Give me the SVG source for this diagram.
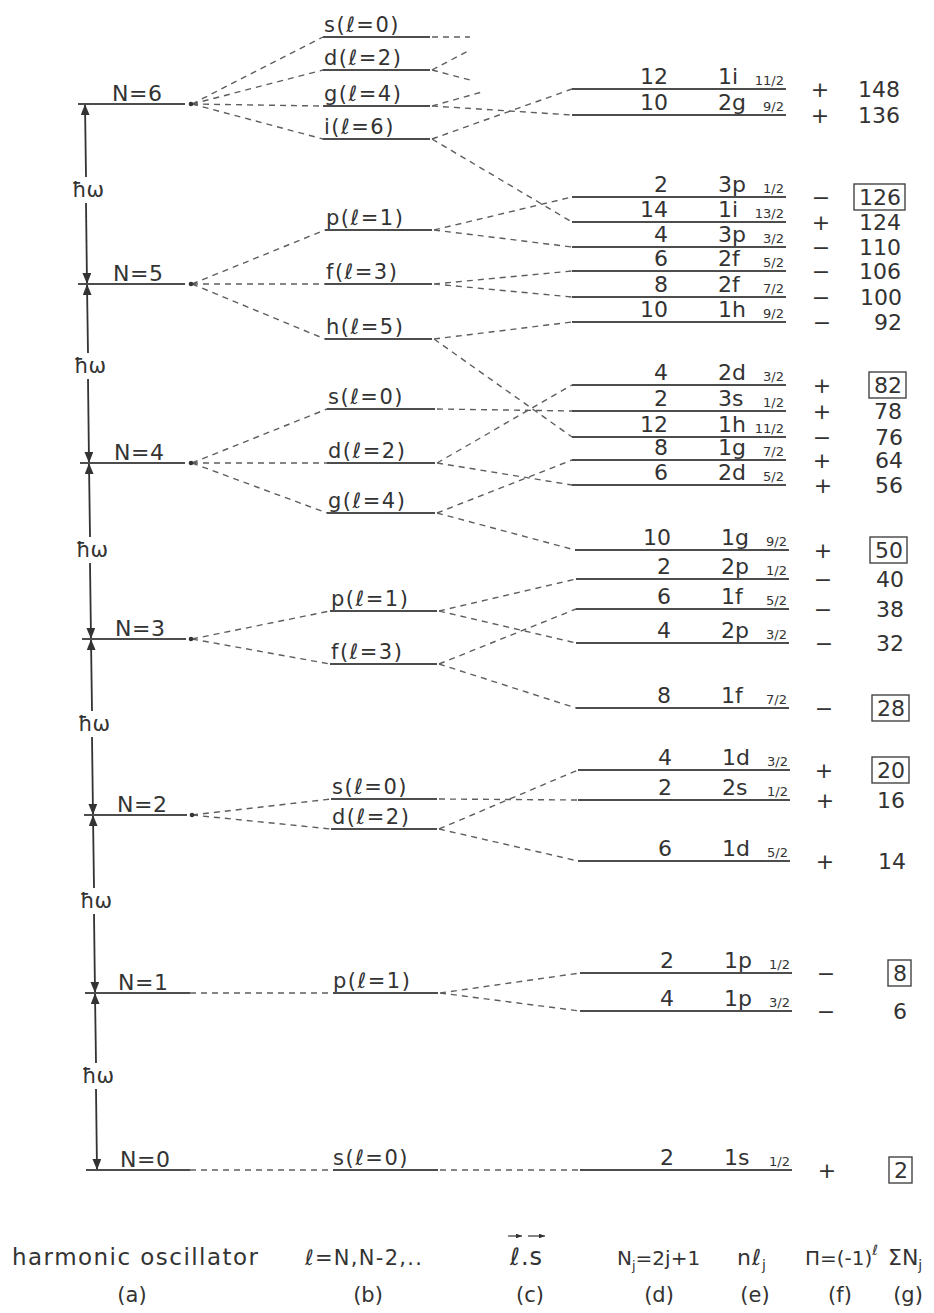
<svg xmlns="http://www.w3.org/2000/svg" width="934" height="1313" viewBox="0 0 934 1313">
<defs>
<style>
text{font-family:"DejaVu Sans","Liberation Sans",sans-serif;fill:#333}
.lv{stroke:#4d4d4d;stroke-width:1.8;fill:none}
.jv{stroke:#4d4d4d;stroke-width:2;fill:none}
.dl{stroke:#5e5e5e;stroke-width:1.4;stroke-dasharray:6 5;fill:none}
.ax{stroke:#333;stroke-width:1.8;fill:none}
.nl{font-size:22px;letter-spacing:0.5px}
.ll{font-size:21px;letter-spacing:1.5px}
.jn{font-size:22px;text-anchor:end}
.jl{font-size:22px}
.js{font-size:13px;text-anchor:end}
.sg{font-size:22px;text-anchor:middle}
.sm{font-size:22px;text-anchor:end}
.bx{fill:none;stroke:#444;stroke-width:1.4}
.hw{font-size:21px;text-anchor:middle}
.cp{font-size:21px}
.cl{font-size:21px;text-anchor:middle}
.dot{fill:#333}
.va{stroke:#333;stroke-width:1.2;fill:none}
</style>
<marker id="ah" viewBox="0 0 10 8" refX="10" refY="4" markerWidth="11" markerHeight="8.8" markerUnits="userSpaceOnUse" orient="auto-start-reverse"><path d="M0,0 L10,4 L0,8 z" fill="#333"/></marker>
<marker id="sa" viewBox="0 0 10 8" refX="10" refY="4" markerWidth="6" markerHeight="4.8" markerUnits="userSpaceOnUse" orient="auto"><path d="M0,0 L10,4 L0,8 z" fill="#333"/></marker>
</defs>
<rect width="934" height="1313" fill="#fff"/>

<g id="connectors">
<g id="axis">
<line class="ax" x1="85" y1="104" x2="86" y2="177" marker-start="url(#ah)"/>
<line class="ax" x1="86" y1="203" x2="87" y2="284" marker-end="url(#ah)"/>
<line class="ax" x1="87" y1="284" x2="88" y2="353" marker-start="url(#ah)"/>
<line class="ax" x1="88" y1="379" x2="89" y2="463" marker-end="url(#ah)"/>
<line class="ax" x1="89" y1="463" x2="90" y2="537" marker-start="url(#ah)"/>
<line class="ax" x1="90" y1="563" x2="91" y2="639" marker-end="url(#ah)"/>
<line class="ax" x1="91" y1="639" x2="92" y2="711" marker-start="url(#ah)"/>
<line class="ax" x1="92" y1="737" x2="93" y2="815" marker-end="url(#ah)"/>
<line class="ax" x1="93" y1="815" x2="94" y2="888" marker-start="url(#ah)"/>
<line class="ax" x1="94" y1="914" x2="95" y2="993" marker-end="url(#ah)"/>
<line class="ax" x1="95" y1="993" x2="96" y2="1063" marker-start="url(#ah)"/>
<line class="ax" x1="96" y1="1089" x2="97" y2="1170" marker-end="url(#ah)"/>
<text class="hw" x="88" y="197">ħω</text>
<text class="hw" x="90" y="373">ħω</text>
<text class="hw" x="92" y="557">ħω</text>
<text class="hw" x="94" y="731">ħω</text>
<text class="hw" x="96" y="908">ħω</text>
<text class="hw" x="98" y="1083">ħω</text>
</g>
<g id="n-to-l">
<path class="dl" d="M192,104 L323,37 M192,104 L323,70 M192,104 L323,106 M192,104 L323,139"/>
<path class="dl" d="M192,284 L325,230 M192,284 L325,284 M192,284 L325,339"/>
<path class="dl" d="M192,463 L327,409 M192,463 L327,463 M192,463 L327,513"/>
<path class="dl" d="M192,639 L330,611 M192,639 L330,664"/>
<path class="dl" d="M192,815 L331,799 M192,815 L331,829"/>
<path class="dl" d="M190,993 L333,993"/>
<path class="dl" d="M190,1170 L333,1170"/>
</g>
<g id="l-to-j">
<path class="dl" d="M432,37 L470,37"/>
<path class="dl" d="M432,70 L470,50 M432,70 L470,80"/>
<path class="dl" d="M432,106 L482,92 M432,106 L572,115"/>
<path class="dl" d="M432,139 L572,89 M432,139 L572,222"/>
<path class="dl" d="M434,230 L572,197 M434,230 L572,247"/>
<path class="dl" d="M434,284 L572,271 M434,284 L572,297"/>
<path class="dl" d="M434,339 L572,322 M434,339 L572,437"/>
<path class="dl" d="M437,409 L572,411"/>
<path class="dl" d="M437,463 L572,385 M437,463 L572,485"/>
<path class="dl" d="M437,513 L572,460 M437,513 L575,550"/>
<path class="dl" d="M439,611 L576,579 M439,611 L576,643"/>
<path class="dl" d="M439,664 L576,609 M439,664 L576,708"/>
<path class="dl" d="M439,799 L578,800"/>
<path class="dl" d="M439,829 L578,770 M439,829 L578,861"/>
<path class="dl" d="M440,993 L580,973 M440,993 L580,1011"/>
<path class="dl" d="M440,1170 L580,1170"/>
</g>
</g>

<g id="oscillator">
<g id="N6"><line class="lv" x1="78" y1="104" x2="185" y2="104"/><circle class="dot" cx="191" cy="104" r="2.3"/><text class="nl" x="112" y="101">N=6</text></g>
<g id="N5"><line class="lv" x1="78" y1="284" x2="185" y2="284"/><circle class="dot" cx="191" cy="284" r="2.3"/><text class="nl" x="113" y="281">N=5</text></g>
<g id="N4"><line class="lv" x1="80" y1="463" x2="185" y2="463"/><circle class="dot" cx="191" cy="463" r="2.3"/><text class="nl" x="114" y="460">N=4</text></g>
<g id="N3"><line class="lv" x1="82" y1="639" x2="186" y2="639"/><circle class="dot" cx="191" cy="639" r="2.3"/><text class="nl" x="115" y="636">N=3</text></g>
<g id="N2"><line class="lv" x1="84" y1="815" x2="187" y2="815"/><circle class="dot" cx="192" cy="815" r="2.3"/><text class="nl" x="117" y="812">N=2</text></g>
<g id="N1"><line class="lv" x1="85" y1="993" x2="190" y2="993"/><text class="nl" x="118" y="990">N=1</text></g>
<g id="N0"><line class="lv" x1="86" y1="1170" x2="190" y2="1170"/><text class="nl" x="120" y="1167">N=0</text></g>
</g>

<g id="orbital">
<g id="l-N6-s"><line class="lv" x1="323" y1="37" x2="430" y2="37"/><text class="ll" x="324" y="32">s(ℓ=0)</text></g>
<g id="l-N6-d"><line class="lv" x1="323" y1="70" x2="430" y2="70"/><text class="ll" x="324" y="65">d(ℓ=2)</text></g>
<g id="l-N6-g"><line class="lv" x1="323" y1="106" x2="430" y2="106"/><text class="ll" x="324" y="101">g(ℓ=4)</text></g>
<g id="l-N6-i"><line class="lv" x1="323" y1="139" x2="430" y2="139"/><text class="ll" x="324" y="134">i(ℓ=6)</text></g>
<g id="l-N5-p"><line class="lv" x1="325" y1="230" x2="432" y2="230"/><text class="ll" x="326" y="225">p(ℓ=1)</text></g>
<g id="l-N5-f"><line class="lv" x1="325" y1="284" x2="432" y2="284"/><text class="ll" x="326" y="279">f(ℓ=3)</text></g>
<g id="l-N5-h"><line class="lv" x1="325" y1="339" x2="432" y2="339"/><text class="ll" x="326" y="334">h(ℓ=5)</text></g>
<g id="l-N4-s"><line class="lv" x1="327" y1="409" x2="435" y2="409"/><text class="ll" x="328" y="404">s(ℓ=0)</text></g>
<g id="l-N4-d"><line class="lv" x1="327" y1="463" x2="435" y2="463"/><text class="ll" x="328" y="458">d(ℓ=2)</text></g>
<g id="l-N4-g"><line class="lv" x1="327" y1="513" x2="435" y2="513"/><text class="ll" x="328" y="508">g(ℓ=4)</text></g>
<g id="l-N3-p"><line class="lv" x1="330" y1="611" x2="437" y2="611"/><text class="ll" x="331" y="606">p(ℓ=1)</text></g>
<g id="l-N3-f"><line class="lv" x1="330" y1="664" x2="437" y2="664"/><text class="ll" x="331" y="659">f(ℓ=3)</text></g>
<g id="l-N2-s"><line class="lv" x1="331" y1="799" x2="437" y2="799"/><text class="ll" x="332" y="794">s(ℓ=0)</text></g>
<g id="l-N2-d"><line class="lv" x1="331" y1="829" x2="437" y2="829"/><text class="ll" x="332" y="824">d(ℓ=2)</text></g>
<g id="l-N1-p"><line class="lv" x1="333" y1="993" x2="438" y2="993"/><text class="ll" x="333" y="988">p(ℓ=1)</text></g>
<g id="l-N0-s"><line class="lv" x1="333" y1="1170" x2="438" y2="1170"/><text class="ll" x="333" y="1165">s(ℓ=0)</text></g>
</g>

<g id="spin-orbit">
<g id="j-1i11"><line class="jv" x1="572" y1="89" x2="786" y2="89"/><text class="jn" x="668" y="84">12</text><text class="jl" x="718" y="84">1i</text><text class="js" x="784" y="85">11/2</text><text class="sg" x="820" y="97">+</text><text class="sm" x="900" y="97">148</text></g>
<g id="j-2g9"><line class="jv" x1="572" y1="115" x2="786" y2="115"/><text class="jn" x="668" y="110">10</text><text class="jl" x="718" y="110">2g</text><text class="js" x="784" y="111">9/2</text><text class="sg" x="820" y="123">+</text><text class="sm" x="900" y="123">136</text></g>
<g id="j-3p1"><line class="jv" x1="572" y1="197" x2="786" y2="197"/><text class="jn" x="668" y="192">2</text><text class="jl" x="718" y="192">3p</text><text class="js" x="784" y="193">1/2</text><text class="sg" x="821" y="205">−</text><rect class="bx" x="854" y="184" width="51" height="26"/><text class="sm" x="901" y="205">126</text></g>
<g id="j-1i13"><line class="jv" x1="572" y1="222" x2="786" y2="222"/><text class="jn" x="668" y="217">14</text><text class="jl" x="718" y="217">1i</text><text class="js" x="784" y="218">13/2</text><text class="sg" x="821" y="230">+</text><text class="sm" x="901" y="230">124</text></g>
<g id="j-3p3"><line class="jv" x1="572" y1="247" x2="786" y2="247"/><text class="jn" x="668" y="242">4</text><text class="jl" x="718" y="242">3p</text><text class="js" x="784" y="243">3/2</text><text class="sg" x="821" y="255">−</text><text class="sm" x="901" y="255">110</text></g>
<g id="j-2f5"><line class="jv" x1="572" y1="271" x2="786" y2="271"/><text class="jn" x="668" y="266">6</text><text class="jl" x="718" y="266">2f</text><text class="js" x="784" y="267">5/2</text><text class="sg" x="821" y="279">−</text><text class="sm" x="901" y="279">106</text></g>
<g id="j-2f7"><line class="jv" x1="572" y1="297" x2="786" y2="297"/><text class="jn" x="668" y="292">8</text><text class="jl" x="718" y="292">2f</text><text class="js" x="784" y="293">7/2</text><text class="sg" x="821" y="305">−</text><text class="sm" x="902" y="305">100</text></g>
<g id="j-1h9"><line class="jv" x1="572" y1="322" x2="786" y2="322"/><text class="jn" x="668" y="317">10</text><text class="jl" x="718" y="317">1h</text><text class="js" x="784" y="318">9/2</text><text class="sg" x="822" y="330">−</text><text class="sm" x="902" y="330">92</text></g>
<g id="j-2d3"><line class="jv" x1="572" y1="385" x2="786" y2="385"/><text class="jn" x="668" y="380">4</text><text class="jl" x="718" y="380">2d</text><text class="js" x="784" y="381">3/2</text><text class="sg" x="822" y="393">+</text><rect class="bx" x="869" y="372" width="37" height="26"/><text class="sm" x="902" y="393">82</text></g>
<g id="j-3s1"><line class="jv" x1="572" y1="411" x2="786" y2="411"/><text class="jn" x="668" y="406">2</text><text class="jl" x="718" y="406">3s</text><text class="js" x="784" y="407">1/2</text><text class="sg" x="822" y="419">+</text><text class="sm" x="902" y="419">78</text></g>
<g id="j-1h11"><line class="jv" x1="572" y1="437" x2="786" y2="437"/><text class="jn" x="668" y="432">12</text><text class="jl" x="718" y="432">1h</text><text class="js" x="784" y="433">11/2</text><text class="sg" x="822" y="445">−</text><text class="sm" x="903" y="445">76</text></g>
<g id="j-1g7"><line class="jv" x1="572" y1="460" x2="786" y2="460"/><text class="jn" x="668" y="455">8</text><text class="jl" x="718" y="455">1g</text><text class="js" x="784" y="456">7/2</text><text class="sg" x="822" y="468">+</text><text class="sm" x="903" y="468">64</text></g>
<g id="j-2d5"><line class="jv" x1="572" y1="485" x2="786" y2="485"/><text class="jn" x="668" y="480">6</text><text class="jl" x="718" y="480">2d</text><text class="js" x="784" y="481">5/2</text><text class="sg" x="823" y="493">+</text><text class="sm" x="903" y="493">56</text></g>
<g id="j-1g9"><line class="jv" x1="575" y1="550" x2="789" y2="550"/><text class="jn" x="671" y="545">10</text><text class="jl" x="721" y="545">1g</text><text class="js" x="787" y="546">9/2</text><text class="sg" x="823" y="558">+</text><rect class="bx" x="870" y="537" width="37" height="26"/><text class="sm" x="903" y="558">50</text></g>
<g id="j-2p1"><line class="jv" x1="576" y1="579" x2="789" y2="579"/><text class="jn" x="671" y="574">2</text><text class="jl" x="721" y="574">2p</text><text class="js" x="787" y="575">1/2</text><text class="sg" x="823" y="587">−</text><text class="sm" x="904" y="587">40</text></g>
<g id="j-1f5"><line class="jv" x1="576" y1="609" x2="789" y2="609"/><text class="jn" x="671" y="604">6</text><text class="jl" x="721" y="604">1f</text><text class="js" x="787" y="605">5/2</text><text class="sg" x="823" y="617">−</text><text class="sm" x="904" y="617">38</text></g>
<g id="j-2p3"><line class="jv" x1="576" y1="643" x2="789" y2="643"/><text class="jn" x="671" y="638">4</text><text class="jl" x="721" y="638">2p</text><text class="js" x="787" y="639">3/2</text><text class="sg" x="824" y="651">−</text><text class="sm" x="904" y="651">32</text></g>
<g id="j-1f7"><line class="jv" x1="576" y1="708" x2="789" y2="708"/><text class="jn" x="671" y="703">8</text><text class="jl" x="721" y="703">1f</text><text class="js" x="787" y="704">7/2</text><text class="sg" x="824" y="716">−</text><rect class="bx" x="872" y="695" width="37" height="26"/><text class="sm" x="905" y="716">28</text></g>
<g id="j-1d3"><line class="jv" x1="578" y1="770" x2="790" y2="770"/><text class="jn" x="672" y="765">4</text><text class="jl" x="722" y="765">1d</text><text class="js" x="788" y="766">3/2</text><text class="sg" x="824" y="778">+</text><rect class="bx" x="872" y="757" width="37" height="26"/><text class="sm" x="905" y="778">20</text></g>
<g id="j-2s1"><line class="jv" x1="578" y1="800" x2="790" y2="800"/><text class="jn" x="672" y="795">2</text><text class="jl" x="722" y="795">2s</text><text class="js" x="788" y="796">1/2</text><text class="sg" x="825" y="808">+</text><text class="sm" x="905" y="808">16</text></g>
<g id="j-1d5"><line class="jv" x1="578" y1="861" x2="790" y2="861"/><text class="jn" x="672" y="856">6</text><text class="jl" x="722" y="856">1d</text><text class="js" x="788" y="857">5/2</text><text class="sg" x="825" y="869">+</text><text class="sm" x="906" y="869">14</text></g>
<g id="j-1p1"><line class="jv" x1="580" y1="973" x2="792" y2="973"/><text class="jn" x="674" y="968">2</text><text class="jl" x="724" y="968">1p</text><text class="js" x="790" y="969">1/2</text><text class="sg" x="826" y="981">−</text><rect class="bx" x="888" y="960" width="23" height="26"/><text class="sm" x="907" y="981">8</text></g>
<g id="j-1p3"><line class="jv" x1="580" y1="1011" x2="792" y2="1011"/><text class="jn" x="674" y="1006">4</text><text class="jl" x="724" y="1006">1p</text><text class="js" x="790" y="1007">3/2</text><text class="sg" x="826" y="1019">−</text><text class="sm" x="907" y="1019">6</text></g>
<g id="j-1s1"><line class="jv" x1="580" y1="1170" x2="792" y2="1170"/><text class="jn" x="674" y="1165">2</text><text class="jl" x="724" y="1165">1s</text><text class="js" x="790" y="1166">1/2</text><text class="sg" x="827" y="1178">+</text><rect class="bx" x="889" y="1157" width="23" height="26"/><text class="sm" x="908" y="1178">2</text></g>
</g>

<g id="captions">
<text class="cp" x="12" y="1265" textLength="246" lengthAdjust="spacing" style="font-size:23px">harmonic oscillator</text>
<text class="cl" x="132" y="1302">(a)</text>
<text class="cp" x="305" y="1265" textLength="117" lengthAdjust="spacing">ℓ=N,N-2,..</text>
<text class="cl" x="368" y="1302">(b)</text>
<line class="va" x1="508" y1="1236" x2="522" y2="1236" marker-end="url(#sa)"/>
<line class="va" x1="528" y1="1236" x2="545" y2="1236" marker-end="url(#sa)"/>
<text class="cp" x="510" y="1265" style="font-size:24px;letter-spacing:1px">ℓ.s</text>
<text class="cl" x="530" y="1302">(c)</text>
<text class="cp" x="617" y="1265" style="font-size:20px">N<tspan dy="5" style="font-size:13px">j</tspan><tspan dy="-5">=2j+1</tspan></text>
<text class="cl" x="659" y="1302">(d)</text>
<text class="cp" x="737" y="1265" style="font-size:22px;letter-spacing:1px">nℓ<tspan dy="5" style="font-size:14px">j</tspan></text>
<text class="cl" x="755" y="1302">(e)</text>
<text class="cp" x="805" y="1265" style="font-size:20px">Π=(-1)<tspan dy="-10" style="font-size:14px">ℓ</tspan></text>
<text class="cl" x="840" y="1302">(f)</text>
<text class="cp" x="888" y="1265" style="font-size:22px">ΣN<tspan dy="5" style="font-size:14px">j</tspan></text>
<text class="cl" x="908" y="1302">(g)</text>
</g>
</svg>
